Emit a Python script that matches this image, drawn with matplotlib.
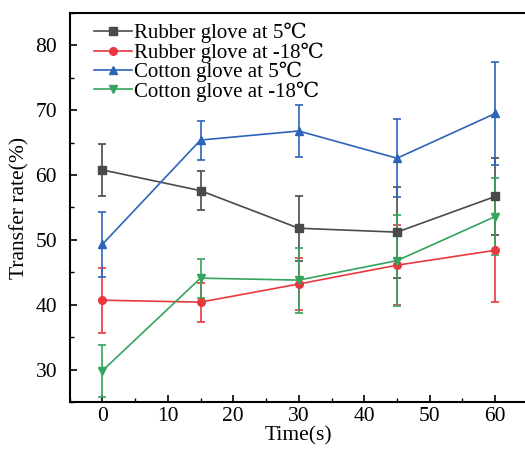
import matplotlib
matplotlib.use("Agg")
import matplotlib.pyplot as plt
from matplotlib.lines import Line2D
from matplotlib.ticker import MultipleLocator

# Data
time_s = [0, 15, 30, 45, 60]

rubber_5 = [60.8, 57.6, 51.8, 51.2, 56.7]
rubber_5_err = [4.0, 3.0, 5.0, 7.0, 6.0]

rubber_m18 = [40.7, 40.4, 43.2, 46.1, 48.4]
rubber_m18_err = [5.0, 3.0, 4.0, 6.2, 8.0]

cotton_5 = [49.3, 65.4, 66.8, 62.6, 69.5]
cotton_5_err = [5.0, 3.0, 4.0, 6.0, 8.0]

cotton_m18 = [29.8, 44.1, 43.8, 46.8, 53.6]
cotton_m18_err = [4.0, 3.0, 5.0, 7.0, 6.0]

labels = ["Rubber glove at 5℃", "Rubber glove at -18℃",
          "Cotton glove at 5℃", "Cotton glove at -18℃"]

plt.rcParams['font.family'] = ['Liberation Serif', 'DejaVu Serif', 'DejaVu Sans']

fig = plt.figure(figsize=(5.25, 4.5), dpi=100)
ax = fig.add_axes([0.1324, 0.1067, 0.8733, 0.8644])

series = [
    (rubber_5, rubber_5_err, '#4A4A4A', 's'),
    (rubber_m18, rubber_m18_err, '#E8383E', 'o'),
    (cotton_5, cotton_5_err, '#2E64B8', '^'),
    (cotton_m18, cotton_m18_err, '#34A45E', 'v'),
]

handles = []
for (vals, errs, color, marker), label in zip(series, labels):
    ax.errorbar(time_s, vals, yerr=errs, color=color, marker=marker,
                markersize=5.5, linewidth=1.2, elinewidth=1.2,
                capsize=3, capthick=1.2)
    handles.append(Line2D([], [], color=color, marker=marker,
                          markersize=5.5, linewidth=1.2, label=label))

ax.set_xlim(-5, 65)
ax.set_ylim(25, 85)
ax.xaxis.set_major_locator(MultipleLocator(10))
ax.xaxis.set_minor_locator(MultipleLocator(5))
ax.yaxis.set_major_locator(MultipleLocator(10))
ax.yaxis.set_minor_locator(MultipleLocator(5))
ax.tick_params(which='major', direction='in', length=5, width=1.2, labelsize=15.5)
ax.tick_params(axis='y', which='major', pad=9)
ax.tick_params(which='minor', direction='in', length=3, width=1.0)

for sp in ax.spines.values():
    sp.set_linewidth(1.5)

ax.set_xlabel("Time(s)", fontsize=15.5, labelpad=0)
ax.set_ylabel("Transfer rate(%)", fontsize=15.5, labelpad=4)

ax.legend(handles=handles, loc='upper left', frameon=False, fontsize=15,
          handlelength=1.8, handletextpad=0.1, labelspacing=-0.05,
          borderaxespad=0.0, borderpad=0.2, bbox_to_anchor=(0.045, 0.985))

fig.savefig("out.png", dpi=100)
